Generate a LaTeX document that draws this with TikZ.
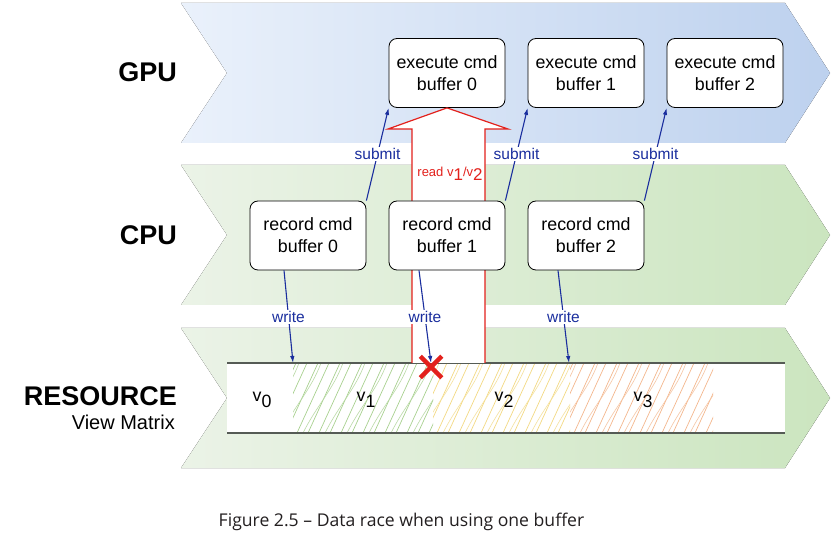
\documentclass[tikz,border=0pt]{standalone}
\usepackage{fontspec}
\setmainfont{Liberation Sans}
\newfontfamily\capfont{Open Sans}
\usetikzlibrary{arrows.meta,shapes.misc}

\definecolor{gpuL}{HTML}{EAF1FB}
\definecolor{gpuR}{HTML}{BDD1EE}
\definecolor{cpuL}{HTML}{EBF3E7}
\definecolor{cpuR}{HTML}{CBE5BF}
\definecolor{linkblue}{HTML}{1A2E9E}
\definecolor{racered}{HTML}{E3211C}
\definecolor{hatchgreen}{HTML}{A9D190}
\definecolor{hatchyellow}{HTML}{F3DA84}
\definecolor{hatchorange}{HTML}{F4B88E}
\definecolor{barline}{HTML}{555B55}
\definecolor{captext}{HTML}{231F20}

% sketchy hatching of one value block: #1 left x, #2 right x, #3 colour
\newcommand{\hatch}[3]{%
  \begin{scope}
    \clip (#1,364) rectangle (#2,432);
    \foreach \d in {-40,-29,...,150}
      \draw[#3, line width=0.7pt] ({#1+\d},433) -- ({#1+\d+32},363);
    \foreach \d in {-34,-12,...,150}
      \draw[#3!80, line width=0.6pt] ({#1+\d},433) .. controls ({#1+\d+14},405) and ({#1+\d+30},390) .. ({#1+\d+40},363);
  \end{scope}}
\newcommand{\vlab}[1]{v\raisebox{-6pt}{#1}}

\begin{document}
\begin{tikzpicture}[x=1pt, y=-1pt,
  every node/.style={font=\fontsize{17.8}{22}\selectfont},
  cmdbox/.style={draw=black, fill=white, rounded corners=8pt, thick, align=center, minimum width=116pt, minimum height=69pt, inner sep=0pt},
  lanelabel/.style={font=\bfseries\fontsize{27}{27}\selectfont, anchor=base east, inner sep=0pt},
  link/.style={draw=linkblue, line width=1.1pt, -{Latex[length=7pt,width=4.5pt]}},
  linklabel/.style={fill=white, text=linkblue, inner sep=1.5pt, font=\fontsize{15.5}{15.5}\selectfont}]
\useasboundingbox (0,0) rectangle (836,545);

% lanes
\fill[left color=gpuL, right color=gpuR] (181,3) -- (785,3) -- (830,73) -- (785,143) -- (181,143) -- (227,73) -- cycle;
\fill[left color=cpuL, right color=cpuR] (181,165) -- (785,165) -- (830,235) -- (785,305) -- (181,305) -- (227,235) -- cycle;
\fill[left color=cpuL, right color=cpuR] (181,328) -- (785,328) -- (830,398) -- (785,468) -- (181,468) -- (227,398) -- cycle;

\node[lanelabel] (gpu) at (177,82) {GPU};
\node[lanelabel] (cpu) at (177,245) {CPU};
\node[lanelabel] (res) at (177,406) {RESOURCE};
\node[anchor=base east, inner sep=0pt, font=\fontsize{20}{20}\selectfont] (view) at (175,429) {View Matrix};

% the resource bar
\fill[white] (227,363) rectangle (785,433);
\hatch{293}{433}{hatchgreen}
\hatch{433}{570}{hatchyellow}
\hatch{570}{713}{hatchorange}
\draw[barline, line width=1.5pt] (227,363) -- (785,363);
\draw[barline, line width=1.5pt] (227,433) -- (785,433);

\node[anchor=base] (v0) at (262,402) {\vlab{0}};
\node[anchor=base] (v1) at (366,402) {\vlab{1}};
\node[anchor=base] (v2) at (504,402) {\vlab{2}};
\node[anchor=base] (v3) at (643,402) {\vlab{3}};

% execute boxes
\node[cmdbox] (exe0) at (447,73) {execute cmd\\buffer 0};
\node[cmdbox] (exe1) at (586,73) {execute cmd\\buffer 1};
\node[cmdbox] (exe2) at (725,73) {execute cmd\\buffer 2};

% read arrow
\draw[racered, line width=1.2pt, fill=white] (412,363) -- (412,129) -- (388,129) -- (exe0.south) -- (508,129) -- (485,129) -- (485,363);
\node[text=racered, font=\fontsize{13}{13}\selectfont] (read) at (450,174) {read v\raisebox{-4pt}{\fontsize{17}{17}\selectfont 1}/v\raisebox{-4pt}{\fontsize{17}{17}\selectfont 2}};

% record boxes
\node[cmdbox] (rec0) at (308,235.5) {record cmd\\buffer 0};
\node[cmdbox] (rec1) at (447,235.5) {record cmd\\buffer 1};
\node[cmdbox] (rec2) at (586,235.5) {record cmd\\buffer 2};

\coordinate (w0) at (293,363);
\coordinate (w1) at (431,363);
\coordinate (w2) at (569,363);

\draw[link] (rec0.north east) -- node[linklabel] {submit} (exe0.south west);
\draw[link] (rec1.north east) -- node[linklabel] {submit} (exe1.south west);
\draw[link] (rec2.north east) -- node[linklabel] {submit} (exe2.south west);

\draw[link] ([xshift=-24pt]rec0.south) -- node[linklabel] {write} (w0);
\draw[link] ([xshift=-28pt]rec1.south) -- node[linklabel] {write} (w1);
\draw[link] ([xshift=-28pt]rec2.south) -- node[linklabel] {write} (w2);

\node[cross out, draw=racered, line width=4.5pt, minimum size=17pt, inner sep=0pt] (race) at (431,367) {};

\node[anchor=base, text=captext, font=\capfont\fontsize{17.6}{17.6}\selectfont] (caption) at (401.5,526) {Figure 2.5 – Data race when using one buffer};
\end{tikzpicture}
\end{document}
